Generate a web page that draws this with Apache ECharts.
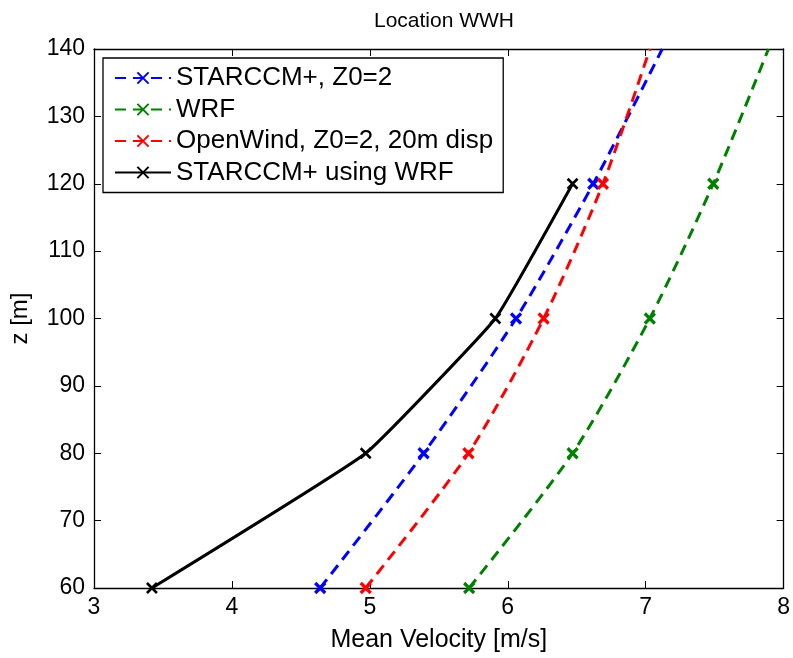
<!DOCTYPE html>
<html>
<head>
<meta charset="utf-8">
<script src="https://cdn.jsdelivr.net/npm/echarts@6/dist/echarts.min.js"></script>
<style>
html,body{margin:0;padding:0;background:#fff;}
#chart{width:793px;height:658px;}
</style>
</head>
<body>
<div id="chart"></div>
<script>
// ---- data ----
var heights = [60, 80, 100, 120, 140];
var starccmZ0 = [4.64, 5.39, 6.06, 6.62, 7.12];
var wrf = [5.72, 6.47, 7.03, 7.49, 7.89];
var openWind = [4.97, 5.715, 6.26, 6.69, 7.03];
var starccmWrf = [3.42, 4.97, 5.91, 6.47];
var markerHeights = [60, 80, 100, 120];
var seriesNames = ['STARCCM+, Z0=2', 'WRF', 'OpenWind, Z0=2, 20m disp', 'STARCCM+ using WRF'];
var xTicks = [3, 4, 5, 6, 7, 8];
var yTicks = [60, 70, 80, 90, 100, 110, 120, 130, 140];

var FONT = 'Liberation Sans, Arial, Helvetica, sans-serif';
var xPath = 'path://M0,0L10,10M10,0L0,10';

function buildData(xs) {
  return xs.map(function (x, i) {
    var item = { value: [x, heights[i]] };
    if (markerHeights.indexOf(heights[i]) < 0) item.symbol = 'none';
    return item;
  });
}

function dashed(name, xs, color) {
  return {
    name: name, type: 'line', data: buildData(xs),
    smooth: 0.25, symbol: xPath, symbolSize: 10,
    lineStyle: { color: color, width: 3, type: [11, 7] },
    itemStyle: { color: color, borderColor: color, borderWidth: 3.2 },
    z: 3
  };
}

var chart = echarts.init(document.getElementById('chart'), null, { renderer: 'canvas' });
var axisCommon = {
  type: 'value',
  axisLine: { show: true, onZero: false, lineStyle: { color: '#000', width: 1.3 } },
  axisTick: { show: true, inside: true, length: 7, lineStyle: { color: '#000', width: 1 } },
  splitLine: { show: false }
};
chart.setOption({
  animation: false,
  backgroundColor: '#fff',
  title: {
    text: 'Location WWH', left: 439, top: 6, textAlign: 'center',
    textStyle: { fontFamily: FONT, fontSize: 21, fontWeight: 'normal', color: '#000' }
  },
  grid: { left: 94, right: 9, top: 49, bottom: 66 },
  legend: {
    orient: 'vertical', left: 103, top: 58,
    data: seriesNames,
    itemWidth: 56, itemHeight: 14, itemGap: 5.5,
    padding: [7, 10, 7, 11],
    borderColor: '#000', borderWidth: 1.3, backgroundColor: '#fff',
    textStyle: { fontFamily: FONT, fontSize: 26, color: '#000' }
  },
  xAxis: [
    Object.assign({}, axisCommon, {
      min: 3, max: 8, interval: 1, position: 'bottom',
      name: 'Mean Velocity [m/s]', nameLocation: 'middle', nameGap: 40,
      nameTextStyle: { fontFamily: FONT, fontSize: 25, color: '#000' },
      axisLabel: { fontFamily: FONT, fontSize: 23, color: '#000', margin: 8 }
    }),
    Object.assign({}, axisCommon, {
      min: 3, max: 8, interval: 1, position: 'top', axisLabel: { show: false }
    })
  ],
  yAxis: [
    Object.assign({}, axisCommon, {
      min: 60, max: 140, interval: 10, position: 'left',
      name: 'z [m]', nameLocation: 'middle', nameGap: 62, nameRotate: 90,
      nameTextStyle: { fontFamily: FONT, fontSize: 24, color: '#000' },
      axisLabel: { fontFamily: FONT, fontSize: 23, color: '#000', margin: 9 }
    }),
    Object.assign({}, axisCommon, {
      min: 60, max: 140, interval: 10, position: 'right', axisLabel: { show: false }
    })
  ],
  series: [
    dashed(seriesNames[0], starccmZ0, '#0000ff'),
    dashed(seriesNames[1], wrf, '#008000'),
    dashed(seriesNames[2], openWind, '#ff0000'),
    {
      name: seriesNames[3], type: 'line',
      data: starccmWrf.map(function (x, i) { return [x, markerHeights[i]]; }),
      smooth: 0.1, symbol: xPath, symbolSize: 10,
      lineStyle: { color: '#000', width: 3 },
      itemStyle: { color: '#000', borderColor: '#000', borderWidth: 2.6 },
      z: 4
    }
  ]
});
</script>
</body>
</html>
